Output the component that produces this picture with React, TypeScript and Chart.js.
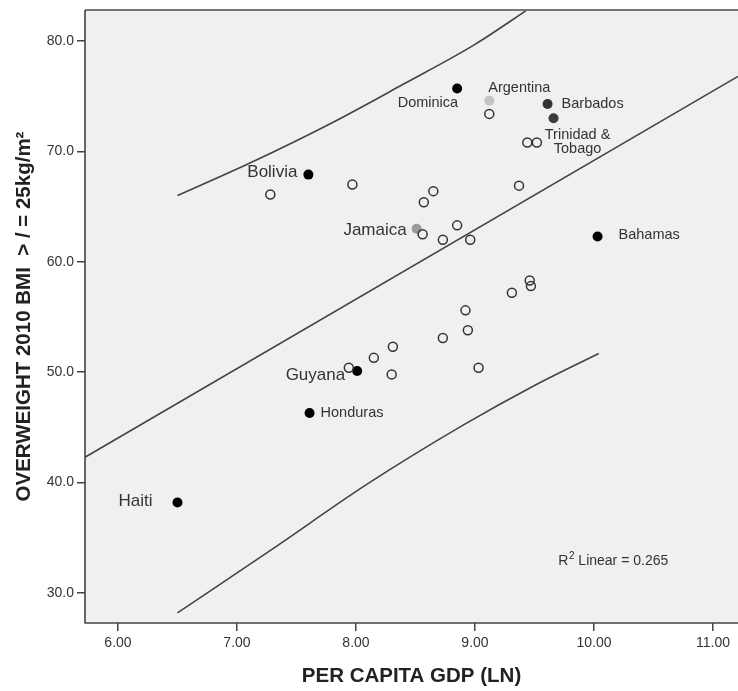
import React, { useEffect, useRef } from "react";
import { Chart, registerables } from "chart.js";

Chart.register(...registerables);

// ---- data ----
const xTicks = [6, 7, 8, 9, 10, 11];
const yTicks = [30, 40, 50, 60, 70, 80];

// unlabeled countries (open circles)
const openX = [7.28, 7.97, 8.65, 8.57, 9.37, 8.56, 8.85, 8.73, 8.96, 9.12, 9.44, 9.52, 7.94, 8.15, 8.31, 8.30, 8.73, 8.92, 8.94, 9.03, 9.31, 9.46, 9.47];
const openY = [66.1, 67.0, 66.4, 65.4, 66.9, 62.5, 63.3, 62.0, 62.0, 73.4, 70.8, 70.8, 50.4, 51.3, 52.3, 49.8, 53.1, 55.6, 53.8, 50.4, 57.2, 58.3, 57.8];

// labeled countries (filled circles)
const labeledNames = ["Dominica", "Argentina", "Barbados", "Trinidad &\nTobago", "Bahamas", "Bolivia", "Jamaica", "Guyana", "Honduras", "Haiti"];
const labeledX = [8.85, 9.12, 9.61, 9.66, 10.03, 7.60, 8.51, 8.01, 7.61, 6.50];
const labeledY = [75.7, 74.6, 74.3, 73.0, 62.3, 67.9, 63.0, 50.1, 46.3, 38.2];

// linear fit line
const fitX = [5.723, 11.21];
const fitY = [42.3, 76.8];

// prediction interval curves
const upperX = [6.5, 7.1, 7.8, 8.4, 9.0, 9.45];
const upperY = [66.0, 68.9, 72.6, 76.1, 79.7, 82.9];
const lowerX = [6.5, 7.3, 8.1, 8.9, 9.5, 10.04];
const lowerY = [28.2, 34.0, 39.9, 45.2, 48.8, 51.7];

const r2Value = "0.265";
const r2Pos = { x: 9.70, y: 32.9 };

const xTitle = "PER CAPITA GDP (LN)";
const yTitle = "OVERWEIGHT 2010 BMI  > / = 25kg/m\u00B2";

// ---- styles ----
const FONT = "'Liberation Sans', Arial, Helvetica, sans-serif";
const labeledColors = ["#000000", "#c4c4c4", "#333333", "#3c3c3c", "#000000", "#000000", "#9a9a9a", "#000000", "#000000", "#000000"];
const labelStyles = [
  { dx: 1, dy: 15, align: "right", size: 14.5 },
  { dx: -1, dy: -13, align: "left", size: 14.5 },
  { dx: 14, dy: 0, align: "left", size: 14.5 },
  { dx: 24, dy: 17, align: "center", size: 14.5 },
  { dx: 21, dy: -1, align: "left", size: 14.5 },
  { dx: -11, dy: -2, align: "right", size: 17 },
  { dx: -10, dy: 2, align: "right", size: 17 },
  { dx: -12, dy: 4, align: "right", size: 17 },
  { dx: 11, dy: 0, align: "left", size: 14.5 },
  { dx: -25, dy: -1, align: "right", size: 17 },
];

const toPts = (xs: number[], ys: number[]) => xs.map((x, i) => ({ x, y: ys[i] }));

const framePlugin = {
  id: "frame",
  beforeDraw(chart: any) {
    const { ctx, chartArea: a } = chart;
    ctx.save();
    ctx.fillStyle = "#f0f0f0";
    ctx.fillRect(a.left, a.top, a.right - a.left, a.bottom - a.top);
    ctx.restore();
  },
  afterDraw(chart: any) {
    const { ctx, chartArea: a } = chart;
    ctx.save();
    ctx.strokeStyle = "#777";
    ctx.lineWidth = 2;
    ctx.beginPath();
    ctx.moveTo(a.left, a.top);
    ctx.lineTo(a.right, a.top);
    ctx.stroke();
    ctx.strokeStyle = "#444";
    ctx.lineWidth = 1.6;
    ctx.beginPath();
    ctx.moveTo(a.left, a.top);
    ctx.lineTo(a.left, a.bottom);
    ctx.lineTo(a.right, a.bottom);
    ctx.stroke();
    ctx.restore();
  },
};

const labelPlugin = {
  id: "pointLabels",
  afterDatasetsDraw(chart: any) {
    const { ctx } = chart;
    const meta = chart.getDatasetMeta(1);
    ctx.save();
    ctx.fillStyle = "#333";
    ctx.textBaseline = "middle";
    meta.data.forEach((el: any, i: number) => {
      const st = labelStyles[i];
      ctx.font = `${st.size}px ${FONT}`;
      ctx.textAlign = st.align;
      const lines = labeledNames[i].split("\n");
      lines.forEach((line, j) => {
        ctx.fillText(line, el.x + st.dx, el.y + st.dy + j * 14);
      });
    });
    // R² annotation
    const xs = chart.scales.x;
    const ys = chart.scales.y;
    let px = xs.getPixelForValue(r2Pos.x);
    const py = ys.getPixelForValue(r2Pos.y);
    ctx.textAlign = "left";
    ctx.font = `14px ${FONT}`;
    ctx.fillText("R", px, py);
    px += ctx.measureText("R").width;
    ctx.font = `10px ${FONT}`;
    ctx.fillText("2", px + 0.5, py - 5);
    px += ctx.measureText("2").width + 0.5;
    ctx.font = `14px ${FONT}`;
    ctx.fillText(" Linear = " + r2Value, px, py);
    ctx.restore();
  },
};

export default function App() {
  const ref = useRef<HTMLCanvasElement | null>(null);

  useEffect(() => {
    if (!ref.current) return;
    const chart = new Chart(ref.current, {
      type: "scatter",
      data: {
        datasets: [
          {
            data: toPts(openX, openY),
            pointRadius: 4.5,
            pointBorderWidth: 1.5,
            borderColor: "#333",
            backgroundColor: "rgba(0,0,0,0)",
            pointStyle: "circle",
          },
          {
            data: toPts(labeledX, labeledY),
            pointRadius: 5,
            pointBorderWidth: 0,
            borderColor: labeledColors,
            backgroundColor: labeledColors,
          },
          {
            type: "line",
            data: toPts(fitX, fitY),
            borderColor: "#444",
            borderWidth: 1.6,
            pointRadius: 0,
            fill: false,
          },
          {
            type: "line",
            data: toPts(upperX, upperY),
            borderColor: "#444",
            borderWidth: 1.6,
            pointRadius: 0,
            fill: false,
            cubicInterpolationMode: "monotone",
          },
          {
            type: "line",
            data: toPts(lowerX, lowerY),
            borderColor: "#444",
            borderWidth: 1.6,
            pointRadius: 0,
            fill: false,
            cubicInterpolationMode: "monotone",
          },
        ] as any,
      },
      options: {
        responsive: false,
        animation: false,
        layout: { autoPadding: false, padding: { top: 10, left: 0, right: 0, bottom: 0 } },
        plugins: { legend: { display: false }, tooltip: { enabled: false } },
        scales: {
          x: {
            type: "linear",
            min: 5.723,
            max: 11.21,
            afterFit: (s: any) => {
              s.height = 68;
              s.paddingLeft = 0;
              s.paddingRight = 0;
            },
            afterBuildTicks: (s: any) => {
              s.ticks = xTicks.map((value) => ({ value }));
            },
            ticks: {
              callback: (v: any) => Number(v).toFixed(2),
              font: { family: FONT, size: 14 },
              color: "#333",
              padding: 4,
              maxRotation: 0,
              autoSkip: false,
            },
            grid: { display: true, drawOnChartArea: false, drawTicks: true, tickLength: 8, color: "#444", lineWidth: 1.5 },
            border: { display: false },
            title: {
              display: true,
              text: xTitle,
              color: "#222",
              font: { family: FONT, size: 20.5, weight: "bold", lineHeight: 1.2 },
              padding: { top: 0, bottom: 2 },
            },
          },
          y: {
            type: "linear",
            min: 27.28,
            max: 82.81,
            afterFit: (s: any) => {
              s.width = 85;
              s.paddingTop = 0;
              s.paddingBottom = 0;
            },
            afterBuildTicks: (s: any) => {
              s.ticks = yTicks.map((value) => ({ value }));
            },
            ticks: {
              callback: (v: any) => Number(v).toFixed(1),
              font: { family: FONT, size: 14 },
              color: "#333",
              padding: 3,
              autoSkip: false,
            },
            grid: { display: true, drawOnChartArea: false, drawTicks: true, tickLength: 8, color: "#444", lineWidth: 1.5 },
            border: { display: false },
            title: {
              display: true,
              text: yTitle,
              color: "#222",
              font: { family: FONT, size: 20.5, weight: "bold", lineHeight: 1.2 },
              padding: { top: 12, bottom: 0 },
            },
          },
        },
      } as any,
      plugins: [framePlugin, labelPlugin],
    });
    return () => chart.destroy();
  }, []);

  return (
    <div style={{ position: "absolute", left: 0, top: 0, width: 738, height: 691, background: "#fff" }}>
      <canvas ref={ref} width={738} height={691} style={{ display: "block" }} />
    </div>
  );
}
